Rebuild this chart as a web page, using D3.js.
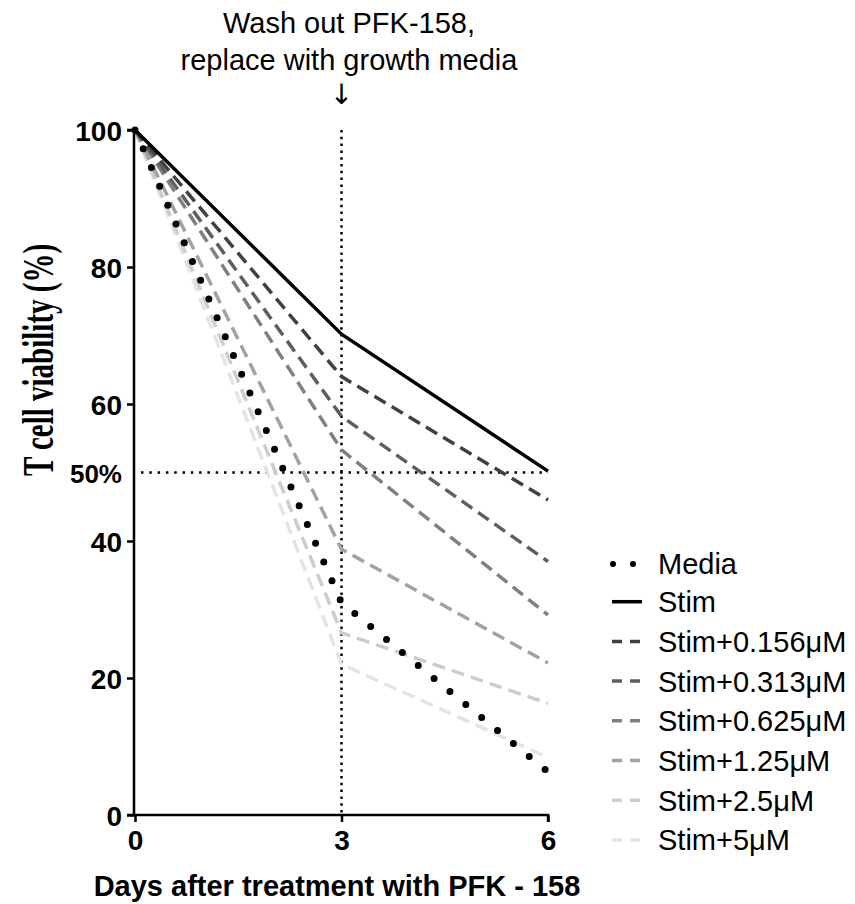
<!DOCTYPE html>
<html>
<head>
<meta charset="utf-8">
<script src="https://cdn.jsdelivr.net/npm/d3@7"></script>
<style>
  body { margin: 0; background: #fff; }
  svg { display: block; }
</style>
</head>
<body>
<svg id="chart" width="855" height="904"></svg>
<script>
/* Data */
var days = [0, 3, 6];
var seriesNames = ["Media", "Stim", "Stim+0.156\u03bcM", "Stim+0.313\u03bcM", "Stim+0.625\u03bcM",
                   "Stim+1.25\u03bcM", "Stim+2.5\u03bcM", "Stim+5\u03bcM"];
var media   = [100, 31, 6.3];
var stim    = [100, 70.2, 50.2];
var s0156   = [100, 64, 46];
var s0313   = [100, 58.2, 37];
var s0625   = [100, 53.3, 29.2];
var s125    = [100, 38.8, 22.2];
var s25     = [100, 26.6, 16.3];
var s5      = [100, 22, 8.4];
var seriesValues = [media, stim, s0156, s0313, s0625, s125, s25, s5];
var yTicks = [0, 20, 40, 60, 80, 100];
var xTicks = [0, 3, 6];

var greys = ["#000", "#000", "#404040", "#5e5e5e", "#808080", "#a2a2a2", "#cdcdcd", "#e4e4e4"];
var boldFont = "Liberation Sans, Arial, sans-serif";

/* Scales */
var x = d3.scaleLinear().domain([0, 6]).range([135, 548]);
var y = d3.scaleLinear().domain([0, 100]).range([815, 130]);

var svg = d3.select("svg#chart");

var line = d3.line()
  .x(function(d, i) { return x(days[i]); })
  .y(function(d) { return y(d); });

function styleFor(i, sel) {
  if (i === 0) {
    sel.attr("stroke-width", 7).attr("stroke-linecap", "round").attr("stroke-dasharray", "0,20.5");
  } else if (i === 1) {
    sel.attr("stroke-width", 3.5).attr("stroke-linejoin", "round");
  } else {
    sel.attr("stroke-width", 3.5).attr("stroke-dasharray", "13,7");
  }
  return sel;
}

/* reference lines */
svg.append("line")
  .attr("x1", x(3)).attr("x2", x(3))
  .attr("y1", y(100)).attr("y2", y(0))
  .attr("stroke", "#000").attr("stroke-width", 2.5)
  .attr("stroke-dasharray", "2.5,4.3");

svg.append("line")
  .attr("x1", x(0) + 6).attr("x2", x(6))
  .attr("y1", y(50)).attr("y2", y(50))
  .attr("stroke", "#000").attr("stroke-width", 2.5)
  .attr("stroke-dasharray", "2.5,5.8");

/* series, lightest first so dark ones sit on top */
var order = [7, 6, 5, 4, 3, 2, 1, 0];
order.forEach(function(i) {
  var p = svg.append("path")
    .datum(seriesValues[i])
    .attr("d", line)
    .attr("fill", "none")
    .attr("stroke", greys[i]);
  styleFor(i, p);
});

/* Axes */
var yAxis = svg.append("g")
  .attr("transform", "translate(" + (x(0) - 1) + ",0)")
  .call(d3.axisLeft(y).tickValues(yTicks).tickFormat(d3.format("d")).tickSize(7).tickPadding(5));
var xAxis = svg.append("g")
  .attr("transform", "translate(0," + y(0) + ")")
  .call(d3.axisBottom(x).tickValues(xTicks).tickFormat(d3.format("d")).tickSize(7).tickPadding(8));

[yAxis, xAxis].forEach(function(g) {
  g.select(".domain").attr("stroke-width", 2.5).attr("stroke", "#000");
  g.selectAll(".tick line").attr("stroke-width", 2.5).attr("stroke", "#000");
  g.selectAll(".tick text")
    .style("font-family", boldFont)
    .style("font-weight", "bold")
    .style("font-size", "28px")
    .attr("fill", "#000");
});
yAxis.selectAll(".tick text").attr("dy", "0.36em");
yAxis.select(".domain").attr("d", "M-7," + y(100) + "H0V" + y(0) + "H-7");
xAxis.select(".domain").attr("d", "M" + (x(0) - 1) + ",0H" + x(6) + "V7");

svg.append("text")
  .attr("x", 122).attr("y", y(50))
  .attr("dy", "0.4em")
  .attr("text-anchor", "end")
  .style("font-family", boldFont)
  .style("font-weight", "bold")
  .style("font-size", "26px")
  .text("50%");

/* Axis titles */
svg.append("text")
  .attr("transform", "translate(53,360) rotate(-90) scale(1,1.55)")
  .attr("text-anchor", "middle")
  .style("font-family", "Liberation Serif, serif")
  .style("font-weight", "bold")
  .style("font-size", "29px")
  .text("T cell viability (%)");

svg.append("text")
  .attr("x", 337).attr("y", 896)
  .attr("text-anchor", "middle")
  .style("font-family", boldFont)
  .style("font-weight", "bold")
  .style("font-size", "29px")
  .text("Days after treatment with PFK - 158");

/* Annotation */
var note = ["Wash out PFK-158,", "replace with growth media"];
svg.selectAll("text.note")
  .data(note)
  .enter()
  .append("text")
  .attr("class", "note")
  .attr("x", 349)
  .attr("y", function(d, i) { return 33 + i * 37; })
  .attr("text-anchor", "middle")
  .style("font-family", "Liberation Sans, Arial, sans-serif")
  .style("font-size", "29px")
  .text(function(d) { return d; });

svg.append("text")
  .attr("x", x(3)).attr("y", 104)
  .attr("text-anchor", "middle")
  .style("font-family", "DejaVu Sans, sans-serif")
  .style("font-size", "28px")
  .text("\u2193");

/* Legend */
var legend = svg.append("g").attr("class", "legend");
seriesNames.forEach(function(name, i) {
  var ly = i === 0 ? 564 : 562 + i * 39.7;
  var p = legend.append("line")
    .attr("x1", i === 0 ? 613 : 612).attr("x2", 642)
    .attr("y1", ly).attr("y2", ly)
    .attr("stroke", greys[i]);
  styleFor(i, p);
  if (i === 0) p.attr("stroke-dasharray", "0,20").attr("stroke-width", 6);
  if (i > 1) p.attr("stroke-dasharray", "10,8");
  legend.append("text")
    .attr("x", 658).attr("y", ly)
    .attr("dy", "0.36em")
    .style("font-family", "Liberation Sans, Arial, sans-serif")
    .style("font-size", "29px")
    .text(name);
});
</script>
</body>
</html>
